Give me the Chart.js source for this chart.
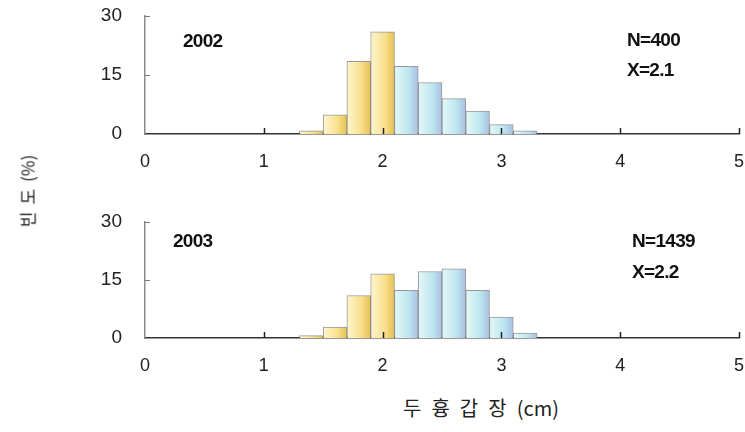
<!DOCTYPE html>
<html>
<head>
<meta charset="utf-8">
<script src="https://cdn.jsdelivr.net/npm/chart.js@4"></script>
<style>
  body { margin: 0; background: #fff; }
  #wrap { position: relative; width: 745px; height: 432px; overflow: hidden; font-family: "Liberation Sans", Arial, sans-serif; }
  canvas { position: absolute; left: 0; }
  .note { position: absolute; font-weight: bold; font-size: 19px; color: #111; letter-spacing: -0.7px; white-space: nowrap; line-height: 1; }
  #ytitle { position: absolute; left: 27px; top: 191px; transform: translate(-50%, -50%) rotate(-90deg); font-family: "Noto Sans CJK KR", sans-serif; font-size: 17px; color: #222; white-space: nowrap; }
  #ytitle span { letter-spacing: 7px; }
  #xtitle { position: absolute; left: 481px; top: 407px; transform: translate(-50%, -50%); font-family: "Noto Sans CJK KR", sans-serif; font-size: 20px; color: #222; white-space: nowrap; }
  #xtitle span { letter-spacing: 10px; }
</style>
</head>
<body>
<div id="wrap">
  <canvas id="chart2002" width="745" height="174" style="top:0px"></canvas>
  <canvas id="chart2003" width="745" height="178" style="top:200px"></canvas>
  <div class="note" style="left:183px; top:31px">2002</div>
  <div class="note" style="left:627px; top:30px">N=400</div>
  <div class="note" style="left:627px; top:60px">X=2.1</div>
  <div class="note" style="left:173px; top:231px">2003</div>
  <div class="note" style="left:632px; top:231px">N=1439</div>
  <div class="note" style="left:632px; top:262px">X=2.2</div>
  <div id="ytitle"><span>빈도</span>(%)</div>
  <div id="xtitle"><span>두흉갑장</span>(cm)</div>
</div>
<script>
// bin centres (cm) and frequency (%)
const bins = [1.4, 1.6, 1.8, 2.0, 2.2, 2.4, 2.6, 2.8, 3.0, 3.2]
const freq2002 = [0.8, 4.9, 18.5, 26, 17.2, 13.1, 9, 5.8, 2.4, 0.8]
const freq2003 = [0.6, 2.8, 11, 16.6, 12.3, 17.2, 17.9, 12.3, 5.4, 1.3]
const xTicks = [0, 1, 2, 3, 4, 5]
const yTicks = [0, 15, 30]

const binWidth = bins[1] - bins[0]

function barColor(c) {
    var yellow = c.parsed && c.parsed.x <= 2.0
    var solid = yellow ? '#f6dc82' : '#bfe3ee'
    var chart = c.chart
    if (!chart.chartArea || c.type !== 'data') return solid
    var xs = chart.scales.x
    var left = xs.getPixelForValue(c.parsed.x - binWidth / 2)
    var right = xs.getPixelForValue(c.parsed.x + binWidth / 2)
    var g = chart.ctx.createLinearGradient(left, 0, right, 0)
    if (yellow) {
        g.addColorStop(0, '#fff6cf')
        g.addColorStop(0.6, '#f8e08e')
        g.addColorStop(1, '#e8c04c')
    } else {
        g.addColorStop(0, '#e4f8f8')
        g.addColorStop(0.6, '#bde6ee')
        g.addColorStop(1, '#a9bfe4')
    }
    return g
}

// small inward tick marks on both axes
const tickMarks = {
    id: 'tickMarks',
    afterDraw(chart) {
        var ctx = chart.ctx
        var area = chart.chartArea
        var x = chart.scales.x
        var y = chart.scales.y
        ctx.save()
        ctx.strokeStyle = '#222'
        ctx.lineWidth = 1.5
        xTicks.forEach(v => {
            if (v === 0) return
            var px = Math.round(x.getPixelForValue(v)) + 0.5
            ctx.beginPath()
            ctx.moveTo(px, area.bottom)
            ctx.lineTo(px, area.bottom - 6)
            ctx.stroke()
        })
        ctx.strokeStyle = '#777'
        ctx.lineWidth = 1
        yTicks.forEach(v => {
            if (v === 0) return
            var py = Math.round(y.getPixelForValue(v)) + 0.5
            ctx.beginPath()
            ctx.moveTo(area.left, py)
            ctx.lineTo(area.left + 5, py)
            ctx.stroke()
        })
        ctx.restore()
    }
}

function makeChart(id, values, padTop) {
    var ctx = document.getElementById(id).getContext('2d')
    return new Chart(ctx, {
        type: 'bar',
        data: {
            datasets: [{
                data: bins.map((b, i) => ({ x: b, y: values[i] })),
                backgroundColor: barColor,
                borderColor: 'rgba(110, 110, 110, 0.7)',
                borderWidth: 1,
                barPercentage: 1,
                categoryPercentage: 1
            }]
        },
        options: {
            responsive: false,
            animation: false,
            devicePixelRatio: 1,
            layout: { padding: { top: padTop, right: 6, bottom: 0, left: 0 } },
            plugins: { legend: { display: false }, tooltip: { enabled: false } },
            scales: {
                x: {
                    type: 'linear',
                    min: 0,
                    max: 5,
                    offset: false,
                    afterBuildTicks: s => { s.ticks = xTicks.map(v => ({ value: v })) },
                    grid: { display: false, drawTicks: false },
                    border: { display: true, color: '#333', width: 1.5, dash: [5, 1] },
                    ticks: { color: '#222', padding: 17, font: { family: 'Liberation Sans', size: 18 } },
                    afterFit: s => { s.height = 40; s.paddingLeft = 0; s.paddingRight = 0 }
                },
                y: {
                    min: 0,
                    max: 30,
                    afterBuildTicks: s => { s.ticks = yTicks.map(v => ({ value: v })) },
                    grid: { display: false, drawTicks: false },
                    border: { display: true, color: '#8a8a8a', width: 1.5, dash: [2, 1] },
                    ticks: { color: '#222', padding: 23, font: { family: 'Liberation Sans', size: 19 } },
                    afterFit: s => { s.width = 145; s.paddingTop = 0; s.paddingBottom = 0 }
                }
            }
        },
        plugins: [tickMarks]
    })
}

makeChart('chart2002', freq2002, 16)
makeChart('chart2003', freq2003, 22)
</script>
</body>
</html>
